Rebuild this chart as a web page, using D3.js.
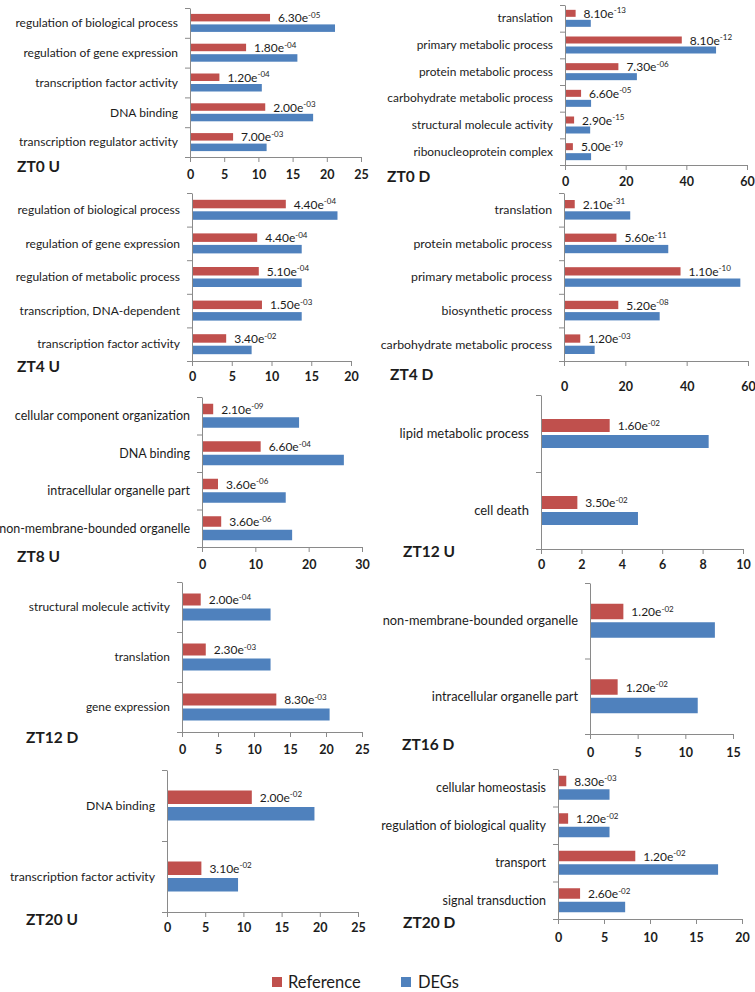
<!DOCTYPE html>
<html><head><meta charset="utf-8">
<script src="https://cdn.jsdelivr.net/npm/d3@7"></script>
<style>body{margin:0;background:#fff}svg{display:block}</style>
</head><body>
<svg id="c" width="755" height="992"></svg>
<script>
// ---------- DATA ----------
const seriesNames = ["Reference", "DEGs"];

const zt0uCategories = ["regulation of biological process","regulation of gene expression","transcription factor activity","DNA binding","transcription regulator activity"];
const zt0uRef = [11.7, 8.2, 4.3, 11.0, 6.3];
const zt0uDeg = [21.2, 15.7, 10.5, 18.0, 11.2];
const zt0uP = ["6.30e-05","1.80e-04","1.20e-04","2.00e-03","7.00e-03"];
const zt0uTicks = [0, 5, 10, 15, 20, 25];

const zt0dCategories = ["translation","primary metabolic process","protein metabolic process","carbohydrate metabolic process","structural molecule activity","ribonucleoprotein complex"];
const zt0dRef = [3.5, 38.5, 17.6, 5.3, 3.0, 2.6];
const zt0dDeg = [8.5, 49.8, 23.7, 8.6, 8.3, 8.6];
const zt0dP = ["8.10e-13","8.10e-12","7.30e-06","6.60e-05","2.90e-15","5.00e-19"];
const zt0dTicks = [0, 20, 40, 60];

const zt4uCategories = ["regulation of biological process","regulation of gene expression","regulation of metabolic process","transcription, DNA-dependent","transcription factor activity"];
const zt4uRef = [11.8, 8.2, 8.4, 8.8, 4.3];
const zt4uDeg = [18.3, 13.8, 13.8, 13.8, 7.5];
const zt4uP = ["4.40e-04","4.40e-04","5.10e-04","1.50e-03","3.40e-02"];
const zt4uTicks = [0, 5, 10, 15, 20];

const zt4dCategories = ["translation","protein metabolic process","primary metabolic process","biosynthetic process","carbohydrate metabolic process"];
const zt4dRef = [3.5, 17.1, 38.0, 17.7, 5.3];
const zt4dDeg = [21.6, 34.0, 57.5, 31.2, 10.0];
const zt4dP = ["2.10e-31","5.60e-11","1.10e-10","5.20e-08","1.20e-03"];
const zt4dTicks = [0, 20, 40, 60];

const zt8uCategories = ["cellular component organization","DNA binding","intracellular organelle part","non-membrane-bounded organelle"];
const zt8uRef = [2.1, 11.0, 3.0, 3.6];
const zt8uDeg = [18.2, 26.6, 15.7, 16.9];
const zt8uP = ["2.10e-09","6.60e-04","3.60e-06","3.60e-06"];
const zt8uTicks = [0, 10, 20, 30];

const zt12uCategories = ["lipid metabolic process","cell death"];
const zt12uRef = [3.4, 1.8];
const zt12uDeg = [8.3, 4.8];
const zt12uP = ["1.60e-02","3.50e-02"];
const zt12uTicks = [0, 2, 4, 6, 8, 10];

const zt12dCategories = ["structural molecule activity","translation","gene expression"];
const zt12dRef = [2.6, 3.3, 13.1];
const zt12dDeg = [12.3, 12.3, 20.5];
const zt12dP = ["2.00e-04","2.30e-03","8.30e-03"];
const zt12dTicks = [0, 5, 10, 15, 20, 25];

const zt16dCategories = ["non-membrane-bounded organelle","intracellular organelle part"];
const zt16dRef = [3.5, 2.9];
const zt16dDeg = [13.1, 11.3];
const zt16dP = ["1.20e-02","1.20e-02"];
const zt16dTicks = [0, 5, 10, 15];

const zt20uCategories = ["DNA binding","transcription factor activity"];
const zt20uRef = [11.1, 4.5];
const zt20uDeg = [19.3, 9.3];
const zt20uP = ["2.00e-02","3.10e-02"];
const zt20uTicks = [0, 5, 10, 15, 20, 25];

const zt20dCategories = ["cellular homeostasis","regulation of biological quality","transport","signal transduction"];
const zt20dRef = [0.9, 1.1, 8.4, 2.4];
const zt20dDeg = [5.6, 5.6, 17.4, 7.3];
const zt20dP = ["8.30e-03","1.20e-02","1.20e-02","2.60e-02"];
const zt20dTicks = [0, 5, 10, 15, 20];

// ---------- LAYOUT ----------
const colors = {Reference: "#C0504D", DEGs: "#4F81BD"};
const axisColor = "#8a8a8a";
const textColor = "#1c1c1c";
const FONT = "Lato, 'Open Sans', sans-serif";
const gap = 3;

const panels = [
  {title:"ZT0 U", cats:zt0uCategories, ref:zt0uRef, deg:zt0uDeg, p:zt0uP, ticks:zt0uTicks,
   x0:190, x1:361, yTop:8, yBot:157, tickY:175, tx:17, ty:167, barH:7.5, fs:12},
  {title:"ZT0 D", cats:zt0dCategories, ref:zt0dRef, deg:zt0dDeg, p:zt0dP, ticks:zt0dTicks,
   x0:565, x1:747, yTop:5, yBot:165, tickY:182, tx:387, ty:177, barH:7, fs:11.9},
  {title:"ZT4 U", cats:zt4uCategories, ref:zt4uRef, deg:zt4uDeg, p:zt4uP, ticks:zt4uTicks,
   x0:192, x1:351, yTop:193, yBot:361, tickY:377, tx:17, ty:367, barH:8.5, fs:12},
  {title:"ZT4 D", cats:zt4dCategories, ref:zt4dRef, deg:zt4dDeg, p:zt4dP, ticks:zt4dTicks,
   x0:564, x1:748, yTop:193, yBot:361, tickY:387, tx:390, ty:375, barH:8.3, fs:12.3},
  {title:"ZT8 U", cats:zt8uCategories, ref:zt8uRef, deg:zt8uDeg, p:zt8uP, ticks:zt8uTicks,
   x0:202, x1:362, yTop:397, yBot:547, tickY:565, tx:17, ty:557, barH:10.5, fs:12.5},
  {title:"ZT12 U", cats:zt12uCategories, ref:zt12uRef, deg:zt12uDeg, p:zt12uP, ticks:zt12uTicks,
   x0:541, x1:743, yTop:395, yBot:549, tickY:565, tx:403, ty:552, barH:13, fs:13},
  {title:"ZT12 D", cats:zt12dCategories, ref:zt12dRef, deg:zt12dDeg, p:zt12dP, ticks:zt12dTicks,
   x0:182, x1:362, yTop:582, yBot:732, tickY:750, tx:26, ty:738, barH:12, fs:11.9},
  {title:"ZT16 D", cats:zt16dCategories, ref:zt16dRef, deg:zt16dDeg, p:zt16dP, ticks:zt16dTicks,
   x0:590, x1:733, yTop:583, yBot:734, tickY:753, tx:402, ty:745, barH:15.5, fs:12.8},
  {title:"ZT20 U", cats:zt20uCategories, ref:zt20uRef, deg:zt20uDeg, p:zt20uP, ticks:zt20uTicks,
   x0:167, x1:358, yTop:770, yBot:912, tickY:928, tx:26, ty:920, barH:13.5, fs:12.2},
  {title:"ZT20 D", cats:zt20dCategories, ref:zt20dRef, deg:zt20dDeg, p:zt20dP, ticks:zt20dTicks,
   x0:558, x1:742, yTop:769, yBot:919, tickY:938, tx:403, ty:923, barH:10.5, fs:12.5}
];

const svg = d3.select("#c");
svg.append("rect").attr("width",755).attr("height",992).attr("fill","#fff");

panels.forEach(P => {
  const g = svg.append("g");
  const x = d3.scaleLinear().domain([0, d3.max(P.ticks)]).range([P.x0, P.x1]);
  const y = d3.scaleBand().domain(P.cats).range([P.yTop, P.yBot]);
  const sub = d3.scaleBand().domain(seriesNames)
      .range([-(P.barH + gap/2), P.barH + gap/2])
      .paddingInner(gap / (P.barH + gap)).paddingOuter(0);

  const rows = P.cats.map((c, i) => ({cat:c, Reference:P.ref[i], DEGs:P.deg[i], p:P.p[i]}));

  // bars
  seriesNames.forEach(s => {
    g.selectAll(null).data(rows).enter().append("rect")
      .attr("x", x(0))
      .attr("y", d => y(d.cat) + y.bandwidth()/2 + sub(s))
      .attr("width", d => x(d[s]) - x(0))
      .attr("height", sub.bandwidth())
      .attr("fill", colors[s]);
  });

  // left axis (category boundaries)
  const yl = d3.scaleLinear().domain([0, P.cats.length]).range([P.yTop, P.yBot]);
  const ga = g.append("g").attr("transform", `translate(${P.x0},0)`)
    .call(d3.axisLeft(yl).tickValues(d3.range(P.cats.length + 1)).tickSize(5).tickSizeOuter(0).tickFormat(""));
  ga.selectAll("path,line").attr("stroke", axisColor);

  // bottom axis
  const gb = g.append("g").attr("transform", `translate(0,${P.yBot})`)
    .call(d3.axisBottom(x).tickValues(P.ticks).tickSize(5).tickSizeOuter(0).tickFormat(d3.format("d")));
  gb.selectAll("path,line").attr("stroke", axisColor);
  gb.selectAll("text").attr("y", P.tickY - P.yBot).attr("dy", "0.35em")
    .attr("font-family", FONT).attr("font-size", 12.5).attr("font-weight", 700).attr("fill", textColor);

  // category labels
  g.selectAll(null).data(rows).enter().append("text")
    .attr("x", P.x0 - 12)
    .attr("y", d => y(d.cat) + y.bandwidth()/2)
    .attr("dy", "0.35em")
    .attr("text-anchor", "end")
    .attr("font-family", FONT).attr("font-size", P.fs).attr("fill", textColor)
    .text(d => d.cat);

  // p-value labels
  const pl = g.selectAll(null).data(rows).enter().append("text")
    .attr("x", d => x(d.Reference) + 8)
    .attr("y", d => y(d.cat) + y.bandwidth()/2 + sub("Reference") + sub.bandwidth()/2)
    .attr("dy", "0.38em")
    .attr("font-family", FONT).attr("font-size", 12).attr("fill", textColor);
  pl.append("tspan").text(d => d.p.split("e")[0] + "e");
  pl.append("tspan").attr("dy", -4.5).attr("font-size", 8).text(d => d.p.split("e")[1]);

  // title
  g.append("text").attr("x", P.tx).attr("y", P.ty).attr("dy", "0.35em")
    .attr("font-family", FONT).attr("font-size", 15.5).attr("font-weight", 700).attr("fill", textColor)
    .text(P.title);
});

// legend
const legendPos = [{name:"Reference", sx:272, tx:288}, {name:"DEGs", sx:401, tx:418}];
const lg = svg.append("g");
lg.selectAll(null).data(legendPos).enter().append("rect")
  .attr("x", d => d.sx).attr("y", 977).attr("width", 10).attr("height", 10)
  .attr("fill", d => colors[d.name]);
lg.selectAll(null).data(legendPos).enter().append("text")
  .attr("x", d => d.tx).attr("y", 987.5)
  .attr("font-family", FONT).attr("font-size", 16.5).attr("fill", textColor)
  .text(d => d.name);
</script>
</body></html>
